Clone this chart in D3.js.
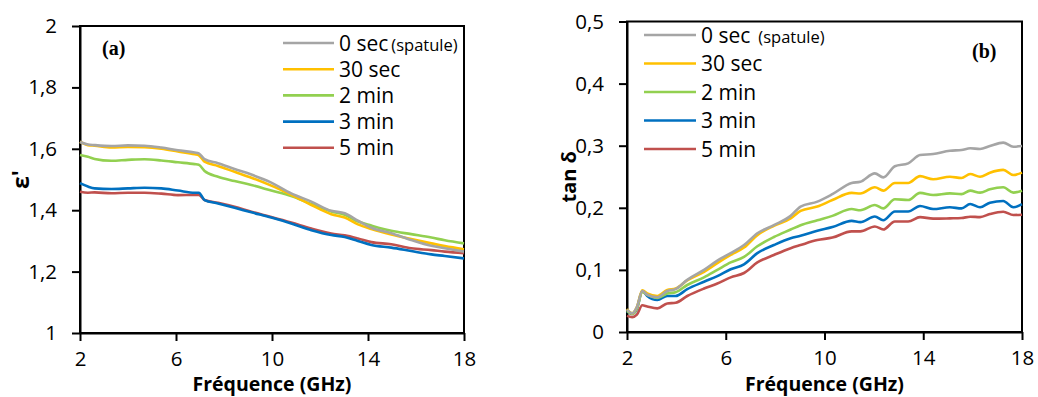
<!DOCTYPE html>
<html><head><meta charset="utf-8">
<script src="https://cdn.jsdelivr.net/npm/d3@7"></script>
<style>
body{margin:0;background:#fff;}
svg{display:block;}
</style></head>
<body><svg id="c" width="1038" height="397"></svg>
<script>
// ---- data ----
const seriesNames = ["0 sec", "30 sec", "2 min", "3 min", "5 min"];
const seriesNote = ["(spatule)", "", "", "", ""];
const colors = ["#A5A5A5", "#FFC000", "#92D050", "#0070C0", "#C0504D"];

// (a) permittivity epsilon'
const freqA = [2, 2.33, 2.61, 3.31, 4, 4.69, 5.39, 6.08, 6.78, 6.95, 7.19, 7.75, 8.44, 9.14, 9.97, 10.8, 11.64, 12.47, 13.03, 13.58, 14.14, 14.97, 15.8, 16.64, 17.2, 18];
const epsA0   = [1.622, 1.614, 1.612, 1.609, 1.611, 1.610, 1.604, 1.595, 1.588, 1.585, 1.566, 1.553, 1.534, 1.516, 1.490, 1.455, 1.428, 1.398, 1.390, 1.366, 1.343, 1.325, 1.303, 1.284, 1.276, 1.265];
const epsA30  = [1.623, 1.612, 1.610, 1.604, 1.606, 1.605, 1.600, 1.591, 1.582, 1.579, 1.558, 1.544, 1.525, 1.506, 1.480, 1.450, 1.417, 1.387, 1.376, 1.354, 1.339, 1.321, 1.306, 1.292, 1.283, 1.273];
const epsA2m  = [1.580, 1.574, 1.567, 1.561, 1.564, 1.566, 1.562, 1.556, 1.550, 1.548, 1.528, 1.509, 1.495, 1.482, 1.464, 1.446, 1.420, 1.396, 1.385, 1.363, 1.350, 1.333, 1.322, 1.311, 1.302, 1.292];
const epsA3m  = [1.488, 1.477, 1.471, 1.469, 1.471, 1.473, 1.471, 1.464, 1.457, 1.457, 1.433, 1.422, 1.408, 1.393, 1.376, 1.357, 1.335, 1.319, 1.313, 1.300, 1.287, 1.278, 1.267, 1.256, 1.251, 1.243];
const epsA5m  = [1.460, 1.457, 1.458, 1.455, 1.457, 1.457, 1.454, 1.449, 1.450, 1.450, 1.433, 1.424, 1.411, 1.395, 1.378, 1.360, 1.340, 1.324, 1.318, 1.308, 1.296, 1.289, 1.276, 1.270, 1.265, 1.260];

// (b) loss tangent
const freqB = [2, 2.21, 2.4, 2.62, 2.82, 3.23, 3.63, 3.97, 4.44, 5.12, 5.66, 6.2, 6.74, 7.28, 7.95, 8.63, 9.03, 9.71, 10.32, 11.1, 11.45, 12.04, 12.38, 12.85, 13.39, 13.87, 14.4, 15.08, 15.55, 15.9, 16.3, 16.7, 17.24, 17.65, 18];
const tanB0   = [0.036, 0.030, 0.040, 0.066, 0.060, 0.056, 0.066, 0.069, 0.084, 0.100, 0.115, 0.127, 0.140, 0.159, 0.172, 0.187, 0.202, 0.210, 0.222, 0.240, 0.242, 0.2555, 0.249, 0.267, 0.2716, 0.285, 0.2866, 0.292, 0.293, 0.2958, 0.2948, 0.2995, 0.305, 0.2984, 0.2995];
const tanB30  = [0.037, 0.030, 0.040, 0.067, 0.062, 0.058, 0.0676, 0.070, 0.083, 0.097, 0.111, 0.124, 0.136, 0.156, 0.171, 0.183, 0.195, 0.202, 0.2125, 0.224, 0.223, 0.233, 0.2276, 0.240, 0.240, 0.251, 0.246, 0.250, 0.248, 0.2544, 0.250, 0.2566, 0.261, 0.2528, 0.2566];
const tanB2m  = [0.034, 0.029, 0.038, 0.064, 0.060, 0.055, 0.062, 0.064, 0.0757, 0.088, 0.100, 0.112, 0.121, 0.138, 0.153, 0.165, 0.172, 0.180, 0.187, 0.198, 0.196, 0.2045, 0.199, 0.2137, 0.2125, 0.224, 0.2206, 0.2233, 0.222, 0.2276, 0.2244, 0.2298, 0.233, 0.2244, 0.2276];
const tanB3m  = [0.033, 0.029, 0.037, 0.066, 0.058, 0.0515, 0.058, 0.058, 0.069, 0.081, 0.090, 0.101, 0.109, 0.127, 0.140, 0.151, 0.155, 0.163, 0.169, 0.179, 0.177, 0.186, 0.180, 0.194, 0.194, 0.203, 0.198, 0.2008, 0.199, 0.2061, 0.2008, 0.2082, 0.211, 0.2008, 0.2061];
const tanB5m  = [0.026, 0.024, 0.028, 0.043, 0.041, 0.038, 0.046, 0.047, 0.058, 0.070, 0.078, 0.088, 0.095, 0.112, 0.124, 0.135, 0.140, 0.148, 0.152, 0.162, 0.162, 0.170, 0.165, 0.178, 0.178, 0.185, 0.1825, 0.183, 0.1835, 0.1857, 0.185, 0.190, 0.1937, 0.1884, 0.1889];

const xTicks = [2, 6, 10, 14, 18];
const yTicksA = [1, 1.2, 1.4, 1.6, 1.8, 2];
const yTicksB = [0, 0.1, 0.2, 0.3, 0.4, 0.5];

const seriesA = [epsA0, epsA30, epsA2m, epsA3m, epsA5m];
const seriesB = [tanB0, tanB30, tanB2m, tanB3m, tanB5m];

// ---- drawing ----
const SANS = "'Open Sans','Noto Sans',sans-serif";
const SERIF = "'Liberation Serif','DejaVu Serif',serif";
const svg = d3.select("#c");
const fmt = v => String(v).replace(".", ",");

function panel(opt) {
  const x = d3.scaleLinear().domain([2, 18]).range([opt.x0, opt.x1]);
  const y = d3.scaleLinear().domain(opt.yDomain).range([opt.y0, opt.y1]);
  const g = svg.append("g");

  g.append("rect").attr("x", opt.x0).attr("y", opt.y1)
    .attr("width", opt.x1 - opt.x0).attr("height", opt.y0 - opt.y1)
    .attr("fill", "none").attr("stroke", "#000").attr("stroke-width", 2);

  const ax = g.append("g").attr("transform", `translate(0,${opt.y0})`)
    .call(d3.axisBottom(x).tickValues(xTicks).tickFormat(fmt).tickSize(8).tickSizeOuter(0).tickPadding(10));
  const ay = g.append("g").attr("transform", `translate(${opt.x0},0)`)
    .call(d3.axisLeft(y).tickValues(opt.yTicks).tickFormat(fmt).tickSize(8).tickSizeOuter(0).tickPadding(15));
  [ax, ay].forEach(a => {
    a.select(".domain").attr("stroke", "#000").attr("stroke-width", 2);
    a.selectAll(".tick line").attr("stroke", "#000").attr("stroke-width", 2);
    a.selectAll(".tick text").style("font-family", SANS).style("font-size", "20.5px").attr("fill", "#000");
  });

  const line = d3.line().x((d, i) => x(opt.freq[i])).y(d => y(d)).curve(d3.curveMonotoneX);
  [4, 3, 2, 1, 0].forEach(k => {
    g.append("path").datum(opt.series[k]).attr("d", line)
      .attr("fill", "none").attr("stroke", colors[k]).attr("stroke-width", 2.6)
      .attr("stroke-linejoin", "round");
  });

  g.append("text").attr("x", (opt.x0 + opt.x1) / 2).attr("y", 391)
    .attr("text-anchor", "middle").style("font-family", SANS).style("font-weight", "bold").style("font-size", "19.5px")
    .text("Fréquence (GHz)");
  g.append("text").attr("transform", `translate(${opt.yTitleX},${(opt.y0 + opt.y1) / 2}) rotate(-90)`)
    .attr("text-anchor", "middle").style("font-family", SANS).style("font-weight", "bold").style("font-size", opt.yTitleSize + "px")
    .text(opt.yTitle);

  g.append("text").attr("x", opt.tagX).attr("y", opt.tagY)
    .style("font-family", SERIF).style("font-weight", "bold").style("font-size", "20px").text(opt.tag);

  const lg = g.append("g");
  seriesNames.forEach((n, k) => {
    const yy = opt.legY + k * opt.legDy;
    lg.append("line").attr("x1", opt.legX).attr("x2", opt.legX + opt.legW)
      .attr("y1", yy).attr("y2", yy).attr("stroke", colors[k]).attr("stroke-width", 2.6);
    const t = lg.append("text").attr("x", opt.legX + opt.legW + 5).attr("y", yy)
      .attr("dy", "0.36em").style("font-family", SANS).style("font-size", "21px");
    t.append("tspan").text(n);
    if (seriesNote[k]) {
      t.append("tspan").attr("dx", opt.noteDx).style("font-size", "16.5px").text(seriesNote[k]);
    }
  });
}

panel({
  x0: 80, x1: 464, y0: 333, y1: 26, yDomain: [1, 2], yTicks: yTicksA,
  freq: freqA, series: seriesA, yTitle: "ε'", yTitleX: 29, yTitleSize: 23,
  tag: "(a)", tagX: 102, tagY: 55,
  legX: 283, legW: 51, legY: 43, legDy: 26.2, noteDx: 3
});
panel({
  x0: 627, x1: 1022, y0: 332, y1: 21.5, yDomain: [0, 0.5], yTicks: yTicksB,
  freq: freqB, series: seriesB, yTitle: "tan δ", yTitleX: 576, yTitleSize: 20,
  tag: "(b)", tagX: 972, tagY: 58,
  legX: 644, legW: 52, legY: 35, legDy: 28.5, noteDx: 8
});
</script></body></html>
